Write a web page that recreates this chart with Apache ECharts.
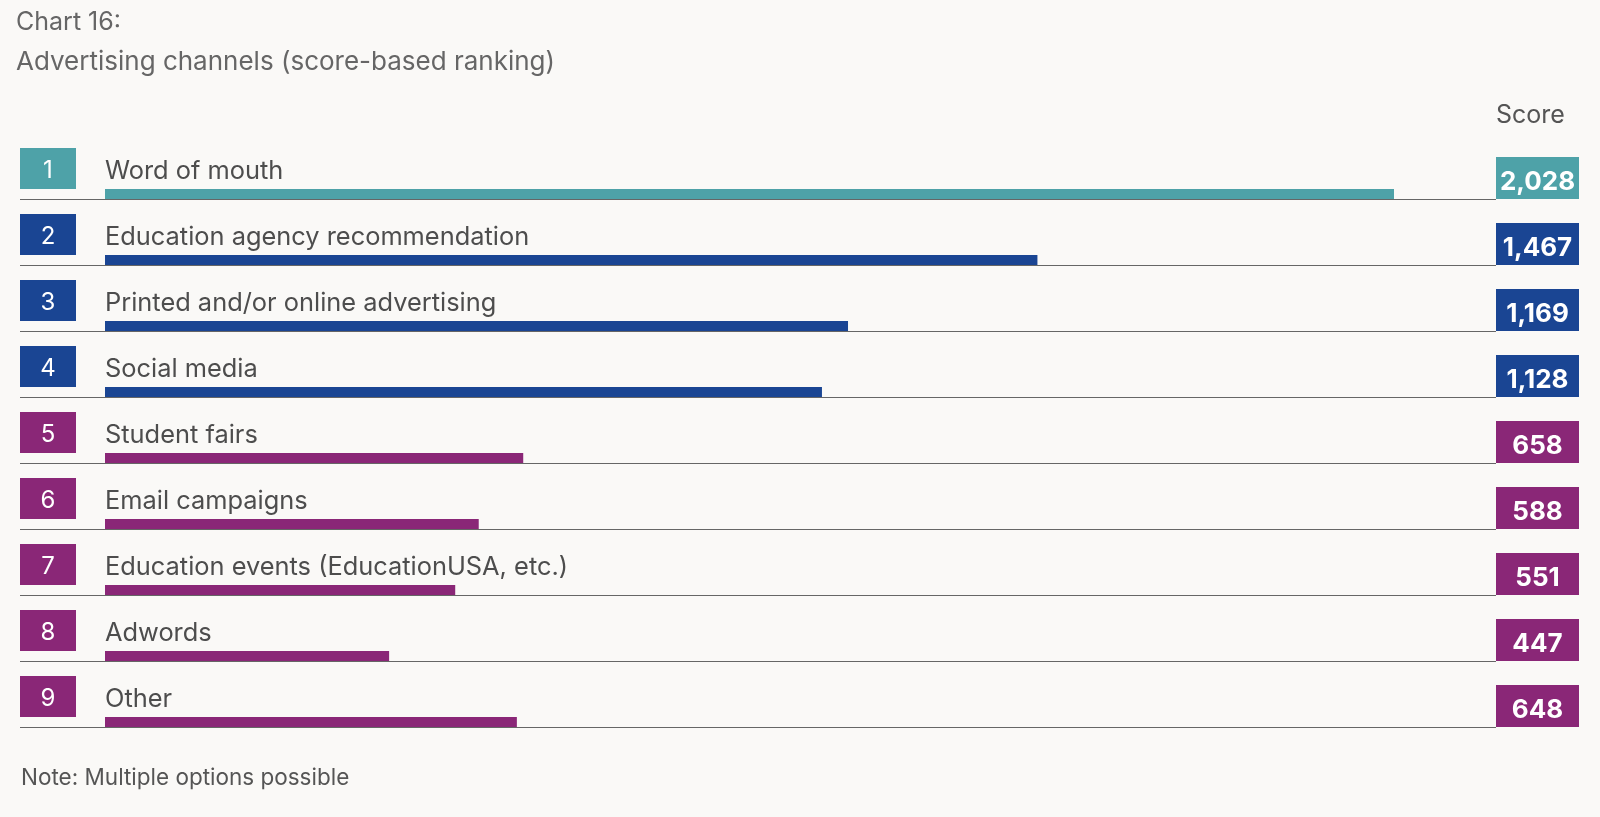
<!DOCTYPE html>
<html>
<head>
<meta charset="utf-8">
<script src="https://cdn.jsdelivr.net/npm/echarts@6/dist/echarts.min.js"></script>
<style>
html,body{margin:0;padding:0;background:#FAF9F7;}
#chart{width:1600px;height:817px;}
</style>
</head>
<body>
<div id="chart"></div>
<script>
const categories = [
  'Word of mouth',
  'Education agency recommendation',
  'Printed and/or online advertising',
  'Social media',
  'Student fairs',
  'Email campaigns',
  'Education events (EducationUSA, etc.)',
  'Adwords',
  'Other'
];
const ranks = [1, 2, 3, 4, 5, 6, 7, 8, 9];
const scores = [2028, 1467, 1169, 1128, 658, 588, 551, 447, 648];
const tiers = [0, 1, 1, 1, 2, 2, 2, 2, 2];

const palette = ['#4EA2A8', '#1A4593', '#8A2777'];
const FONT = 'Inter, "Noto Sans", sans-serif';

const chart = echarts.init(document.getElementById('chart'));

chart.setOption({
  backgroundColor: '#FAF9F7',
  animation: false,
  title: [
    { text: 'Chart 16:', left: 11, top: 5,
      textStyle: { fontFamily: FONT, fontSize: 25, fontWeight: 'normal', color: '#666' } },
    { text: 'Advertising channels (score-based ranking)', left: 11, top: 44,
      textStyle: { fontFamily: FONT, fontSize: 26, fontWeight: 'normal', color: '#666' } },
    { text: 'Score', left: 1491, top: 98,
      textStyle: { fontFamily: FONT, fontSize: 25, fontWeight: 'normal', color: '#555' } },
    { text: 'Note: Multiple options possible', left: 16, top: 762,
      textStyle: { fontFamily: FONT, fontSize: 22.5, fontWeight: 'normal', color: '#555' } }
  ],
  grid: { left: 105, right: 206, top: 133, bottom: 90 },
  xAxis: { type: 'value', min: 0, max: 2028, show: false },
  yAxis: { type: 'category', data: categories, inverse: true, show: false },
  series: [{
    type: 'custom',
    data: scores.map((s, i) => [s, i]),
    encode: { x: 0, y: 1 },
    renderItem: function (params, api) {
      const val = api.value(0);
      const idx = api.value(1);
      const p0 = api.coord([0, idx]);
      const p1 = api.coord([val, idx]);
      const band = api.size([0, 1])[1];
      const top = p0[1] - band / 2;
      const bottom = Math.round(p0[1] + band / 2);
      const W = api.getWidth();
      const color = palette[tiers[idx]];
      const boxL = W - 104;
      return {
        type: 'group',
        children: [
          { type: 'line', shape: { x1: 20, y1: bottom + 0.5, x2: boxL, y2: bottom + 0.5 },
            style: { stroke: '#666', lineWidth: 1 } },
          { type: 'rect', shape: { x: p0[0], y: bottom - 10, width: p1[0] - p0[0], height: 10 },
            style: { fill: color } },
          { type: 'rect', shape: { x: 20, y: top + 15, width: 56, height: 41 },
            style: { fill: color } },
          { type: 'text', style: { x: 48, y: top + 38, text: String(ranks[idx]),
              fill: '#fff', font: '24px ' + FONT, textAlign: 'center', textVerticalAlign: 'middle' } },
          { type: 'text', style: { x: p0[0], y: top + 38, text: categories[idx],
              fill: '#4d4d4d', font: '25.4px ' + FONT, textAlign: 'left', textVerticalAlign: 'middle' } },
          { type: 'rect', shape: { x: boxL, y: bottom - 42, width: 83, height: 42 },
            style: { fill: color } },
          { type: 'text', style: { x: boxL + 41.5, y: bottom - 17, text: val.toLocaleString('en-US'),
              fill: '#fff', font: 'bold 26px ' + FONT, textAlign: 'center', textVerticalAlign: 'middle' } }
        ]
      };
    }
  }]
});
</script>
</body>
</html>
